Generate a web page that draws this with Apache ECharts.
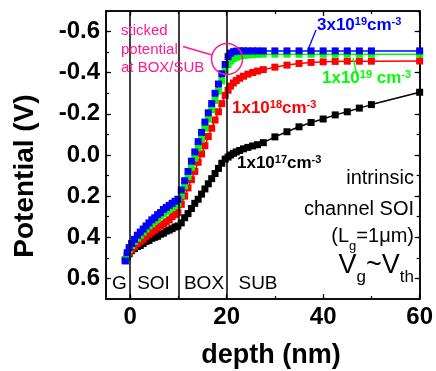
<!DOCTYPE html>
<html>
<head>
<meta charset="utf-8">
<script src="https://cdn.jsdelivr.net/npm/echarts@6/dist/echarts.min.js"></script>
<style>html,body{margin:0;padding:0;background:#fff}#c{width:436px;height:371px}</style>
</head>
<body>
<div id="c"></div>
<script>
// ---- data ----
var depth = [-1,-0.6,-0.2,0.3,0.9,1.5,2.1,2.7,3.3,3.9,4.5,5.1,5.7,6.3,6.9,7.5,8.1,8.7,9.3,9.9,
  10.6,11.3,12,12.7,13.4,14.1,14.8,15.5,16.2,16.9,17.6,18.3,19,19.7,
  20.3,20.8,21.4,22,22.7,23.5,24.4,25.4,26.4,27.6,30,32.5,35,37.5,40,42.5,45,47.5,50,60];
var pot1e17 = [0.51,0.495,0.48,0.465,0.455,0.445,0.44,0.43,0.42,0.415,0.405,0.4,0.395,0.385,0.38,0.37,0.365,0.358,0.35,0.345,
  0.33,0.305,0.285,0.26,0.235,0.215,0.19,0.165,0.14,0.115,0.09,0.065,0.04,0.02,
  0.01,0.0,-0.008,-0.015,-0.022,-0.03,-0.037,-0.044,-0.05,-0.06,-0.088,-0.113,-0.137,-0.158,-0.175,-0.195,-0.21,-0.228,-0.245,-0.305];
var pot1e18 = [0.51,0.49,0.475,0.46,0.445,0.43,0.42,0.41,0.395,0.385,0.375,0.365,0.355,0.345,0.335,0.325,0.315,0.3,0.29,0.28,
  0.24,0.2,0.16,0.12,0.08,0.035,-0.005,-0.045,-0.09,-0.13,-0.17,-0.21,-0.25,-0.29,
  -0.315,-0.335,-0.35,-0.362,-0.373,-0.383,-0.393,-0.401,-0.408,-0.415,-0.427,-0.437,-0.445,-0.45,-0.453,-0.455,-0.456,-0.456,-0.456,-0.457];
var pot1e19 = [0.51,0.48,0.46,0.44,0.42,0.405,0.39,0.375,0.36,0.345,0.335,0.32,0.31,0.295,0.285,0.275,0.265,0.255,0.245,0.235,
  0.195,0.15,0.105,0.06,0.015,-0.035,-0.08,-0.13,-0.175,-0.22,-0.265,-0.31,-0.36,-0.41,
  -0.44,-0.457,-0.468,-0.475,-0.48,-0.484,-0.486,-0.488,-0.489,-0.49,-0.49,-0.49,-0.49,-0.49,-0.49,-0.49,-0.49,-0.49,-0.49,-0.49];
var pot3e19 = [0.515,0.475,0.45,0.43,0.41,0.39,0.375,0.36,0.345,0.33,0.315,0.305,0.29,0.28,0.265,0.255,0.245,0.235,0.225,0.215,
  0.17,0.125,0.08,0.03,-0.015,-0.065,-0.11,-0.16,-0.205,-0.25,-0.3,-0.345,-0.395,-0.44,
  -0.478,-0.495,-0.502,-0.505,-0.506,-0.506,-0.506,-0.506,-0.506,-0.506,-0.506,-0.506,-0.506,-0.506,-0.506,-0.506,-0.506,-0.506,-0.506,-0.506];
var boundaries = [0, 10, 20];
var regionNames = ['G', 'SOI', 'BOX', 'SUB'];
var xTickLabels = [0, 20, 40, 60];
var xMinorTicks = [0, 10, 20, 30, 40, 50, 60];
var yTickLabels = [-0.6, -0.4, -0.2, 0, 0.2, 0.4, 0.6];

// ---- chart ----
var FONT = '"Liberation Sans", Arial, sans-serif';
function zip(xs, ys) { return xs.map(function (x, i) { return [x, ys[i]]; }); }
function mkSeries(name, color, ys, extra) {
  var s = {
    name: name, type: 'line', data: zip(depth, ys),
    symbol: 'rect', symbolSize: 7, showSymbol: true,
    itemStyle: { color: color }, lineStyle: { color: color, width: 1.5 },
    animation: false, silent: true, z: 3
  };
  if (extra) for (var k in extra) s[k] = extra[k];
  return s;
}
var chart = echarts.init(document.getElementById('c'), null, { renderer: 'canvas' });
function axLine() { return { show: true, onZero: false, lineStyle: { color: '#000', width: 1.5 } }; }
function xAx(pos, labels, tickVals, len) {
  return {
    type: 'value', min: -5, max: 60, position: pos, splitLine: { show: false }, axisLine: axLine(),
    axisTick: { show: true, inside: true, length: len, customValues: tickVals, lineStyle: { color: '#000', width: 1.2 } },
    axisLabel: labels ? { show: true, customValues: xTickLabels, margin: 6, color: '#000',
      fontFamily: FONT, fontWeight: 'bold', fontSize: 24 } : { show: false }
  };
}
function yAx(pos, labels, major, len) {
  var a = {
    type: 'value', min: -0.7, max: 0.7, inverse: true, position: pos,
    splitLine: { show: false }, axisLine: axLine(),
    axisTick: { show: true, inside: true, length: len, lineStyle: { color: '#000', width: 1.2 } },
    axisLabel: { show: false }
  };
  if (major) { a.axisTick.customValues = yTickLabels; }
  else { a.interval = 0.1; }
  if (labels) a.axisLabel = { show: true, customValues: yTickLabels, margin: 6, color: '#000',
    fontFamily: FONT, fontWeight: 'bold', fontSize: 24, formatter: function (v) { return v.toFixed(1); } };
  return a;
}
var magenta = '#ff1a8c';
function t(x, y, text, opts) {
  var st = Object.assign({ text: text, fill: '#000', font: '20px ' + FONT, align: 'left', verticalAlign: 'middle' }, opts || {});
  st.textAlign = st.align; st.textVerticalAlign = st.verticalAlign;
  return { type: 'text', x: x, y: y, z: 100, style: st };
}
function concRich(color, size) {
  return {
    b: { fill: color, fontFamily: FONT, fontWeight: 'bold', fontSize: size, lineHeight: size + 1, verticalAlign: 'bottom' },
    s: { fill: color, fontFamily: FONT, fontWeight: 'bold', fontSize: 11, lineHeight: 12, verticalAlign: 'top', padding: [0, 0, 12, 0] }
  };
}
var regionPos = [119.5, 153.5, 204, 258];
var graphics = [
  t(121, 31, 'sticked', { fill: magenta, font: '15px ' + FONT }),
  t(121, 50, 'potential', { fill: magenta, font: '15px ' + FONT }),
  t(121, 68, 'at BOX/SUB', { fill: magenta, font: '15px ' + FONT }),
  { type: 'line', z: 100, shape: { x1: 183, y1: 46.5, x2: 212, y2: 55 }, style: { stroke: magenta, lineWidth: 1.5 } },
  { type: 'circle', z: 100, shape: { cx: 227, cy: 59, r: 15.5 }, style: { fill: 'none', stroke: magenta, lineWidth: 1.5 } },
  { type: 'line', z: 100, shape: { x1: 316, y1: 30, x2: 307.5, y2: 51 }, style: { stroke: '#0000ff', lineWidth: 1.3 } },
  { type: 'line', z: 100, shape: { x1: 353, y1: 58, x2: 358, y2: 79 }, style: { stroke: '#00ff00', lineWidth: 1.3 } },
  { type: 'text', x: 317, y: 16, z: 100, style: { text: '{b|3x10}{s|19}{b|cm}{s|-3}', rich: concRich('#0000ff', 17) } },
  { type: 'text', x: 322, y: 69, z: 100, style: { text: '{b|1x10}{s|19}{b| cm}{s|-3}', rich: concRich('#00ff00', 17) } },
  { type: 'text', x: 232, y: 99, z: 100, style: { text: '{b|1x10}{s|18}{b|cm}{s|-3}', rich: concRich('#ff0000', 17) } },
  { type: 'text', x: 237, y: 154, z: 100, style: { text: '{b|1x10}{s|17}{b|cm}{s|-3}', rich: concRich('#000000', 17) } },
  t(414, 178, 'intrinsic', { align: 'right' }),
  t(414, 209, 'channel SOI', { align: 'right' }),
  { type: 'text', x: 414, y: 226, z: 100, style: { text: '{n|(L}{g|g}{n|=1μm)}', align: 'right', textAlign: 'right',
      rich: { n: { fill: '#000', fontFamily: FONT, fontSize: 20, lineHeight: 22, verticalAlign: 'top' },
              g: { fill: '#000', fontFamily: FONT, fontSize: 13, lineHeight: 14, verticalAlign: 'top', padding: [14, 0, 0, 0] } } } },
  { type: 'text', x: 414, y: 252, z: 100, style: { text: '{v|V}{s|g}{v|~V}{s|th}', align: 'right', textAlign: 'right',
      rich: { v: { fill: '#000', fontFamily: FONT, fontSize: 27, lineHeight: 30, verticalAlign: 'top' },
              s: { fill: '#000', fontFamily: FONT, fontSize: 17, lineHeight: 18, verticalAlign: 'top', padding: [17, 0, 0, 0] } } } },
  t(271, 356, 'depth (nm)', { align: 'center', font: 'bold 27px ' + FONT }),
  { type: 'text', x: 25, y: 176, rotation: Math.PI / 2, z: 100,
    style: { text: 'Potential (V)', fill: '#000', font: 'bold 28px ' + FONT, align: 'center', verticalAlign: 'middle', textAlign: 'center', textVerticalAlign: 'middle' } }
];
regionPos.forEach(function (x, i) {
  graphics.push(t(x, 284, regionNames[i], { align: 'center', font: '19px ' + FONT }));
});

chart.setOption({
  animation: false,
  backgroundColor: '#fff',
  grid: { left: 106, right: 16, top: 11, bottom: 72, containLabel: false },
  xAxis: [
    xAx('bottom', true, xTickLabels, 5),
    xAx('bottom', false, xMinorTicks, 3),
    xAx('top', false, xTickLabels, 5),
    xAx('top', false, xMinorTicks, 3)
  ],
  yAxis: [
    yAx('left', true, true, 5),
    yAx('left', false, false, 3),
    yAx('right', false, true, 5),
    yAx('right', false, false, 3)
  ],
  series: [
    mkSeries('1x10^17', '#000000', pot1e17, {
      markLine: { silent: true, symbol: ['none', 'none'], label: { show: false },
        lineStyle: { color: '#000', width: 1.5, type: 'solid' },
        data: boundaries.map(function (b) { return { xAxis: b }; }) }
    }),
    mkSeries('1x10^18', '#ff0000', pot1e18),
    mkSeries('1x10^19', '#00ff00', pot1e19),
    mkSeries('3x10^19', '#0000ff', pot3e19)
  ],
  graphic: graphics
});
</script>
</body>
</html>
